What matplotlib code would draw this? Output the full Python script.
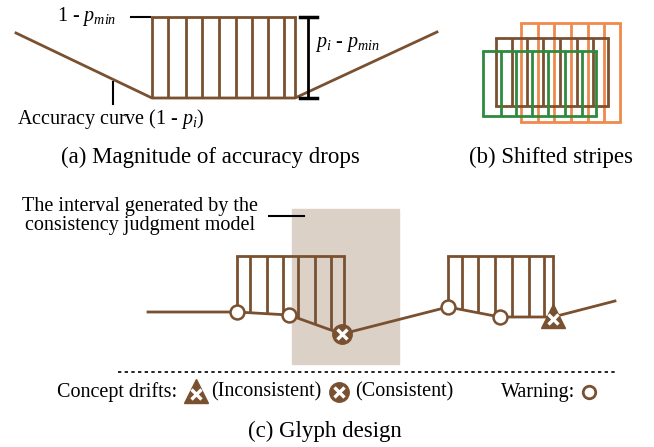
import numpy as np
import matplotlib.pyplot as plt

plt.rcParams['font.family'] = ['Liberation Serif', 'DejaVu Serif']
plt.rcParams['mathtext.fontset'] = 'custom'
plt.rcParams['mathtext.rm'] = 'Liberation Serif'
plt.rcParams['mathtext.it'] = 'Liberation Serif:italic'

BROWN = '#7a5130'
ORANGE = '#ef8a4c'
GREEN = '#2f8a3f'
SHADE = '#dcd1c7'
FS = 14.5
CAP = 16.5

# (a) accuracy curve and stripe block
a_curve_x = [16, 152, 295, 437]
a_curve_y = [33, 98, 98, 32]
a_stripes_x = [152, 168, 186, 202, 219, 236, 252, 268, 284, 295]
a_top, a_bottom = 17, 98

# (b) shifted stripe groups: (x positions, top, bottom, colour)
b_orange_x = [521, 538, 554, 571, 588, 604, 620]
b_brown_x = [496, 512, 527, 543, 560, 577, 593, 608]
b_green_x = [483, 501, 516, 532, 548, 565, 582, 596]
b_groups = [(b_orange_x, 23, 122, ORANGE),
            (b_brown_x, 38, 106, BROWN),
            (b_green_x, 51, 116, GREEN)]

# (c) glyph design
c_curve_x = [148, 237, 289, 342, 448, 500, 553, 615]
c_curve_y = [312, 312, 315, 334, 307, 317, 317, 301]
c_stripes1_x = [237, 250, 267, 283, 298, 315, 331, 344]
c_stripes2_x = [448, 462, 478, 495, 512, 529, 544, 553]
c_top = 256
warn_x = [237, 289, 448, 500]
consistent_x = [342]
inconsistent_x = [553]
interval = (292, 399, 209, 364)


def draw_stripes(ax, xs, top, bottoms, color, lw=2):
    ax.vlines(xs, top, bottoms, color=color, lw=lw)
    ax.plot([xs[0], xs[-1]], [top, top], color=color, lw=lw, solid_capstyle='projecting')


def drift_marker(ax, x, y, shape):
    if shape == '^':
        ax.plot(x, y - 1, '^', ms=17, color=BROWN, zorder=3)
        ax.plot(x, y + 2, 'x', ms=7, mew=2.4, color='white', zorder=4)
    else:
        ax.plot(x, y, 'o', ms=14, color=BROWN, zorder=3)
        ax.plot(x, y, 'x', ms=7, mew=2.4, color='white', zorder=4)


fig = plt.figure(figsize=(6.54, 4.47), dpi=100)
ax = fig.add_axes([0, 0, 1, 1])
ax.set_xlim(0, 654)
ax.set_ylim(447, 0)
ax.axis('off')

# ---- (a)
ax.plot(a_curve_x, a_curve_y, color=BROWN, lw=2)
draw_stripes(ax, a_stripes_x, a_top, a_bottom, BROWN)
ax.plot([131, 150], [a_top, a_top], color='black', lw=1.5)
ax.plot([308, 308], [a_top, a_bottom], color='black', lw=2)
ax.plot([300, 317], [a_top, a_top], color='black', lw=2.5)
ax.plot([300, 317], [a_bottom, a_bottom], color='black', lw=2.5)
ax.plot([113, 113], [82, 104], color='black', lw=1.5)
ax.text(57, 16, r'1 - $p_{min}$', fontsize=FS, va='center')
ax.text(315, 44, r'$p_i$ - $p_{min}$', fontsize=FS, va='center')
ax.text(17, 119, r'Accuracy curve (1 - $p_i$)', fontsize=FS, va='center')
ax.text(210, 157, '(a) Magnitude of accuracy drops', fontsize=CAP, ha='center', va='center')

# ---- (b)
for xs, top, bottom, col in b_groups:
    draw_stripes(ax, xs, top, bottom, col, lw=2)
    ax.plot([xs[0], xs[-1]], [bottom, bottom], color=col, lw=2)
ax.text(551, 157, '(b) Shifted stripes', fontsize=CAP, ha='center', va='center')

# ---- (c)
x0, x1, y0, y1 = interval
ax.add_patch(plt.Rectangle((x0, y0), x1 - x0, y1 - y0, color=SHADE, zorder=0))
ax.plot([269, 304], [216, 216], color='black', lw=1.5)
ax.text(140, 216, 'The interval generated by the\nconsistency judgment model',
        fontsize=FS, ha='center', va='center', multialignment='center', linespacing=1.0)

for xs in (c_stripes1_x, c_stripes2_x):
    bottoms = np.interp(xs, c_curve_x, c_curve_y)
    draw_stripes(ax, xs, c_top, bottoms, BROWN)
ax.plot(c_curve_x, c_curve_y, color=BROWN, lw=2, zorder=2)

wy = np.interp(warn_x, c_curve_x, c_curve_y)
ax.plot(warn_x, wy, 'o', ms=10, mfc='white', mec=BROWN, mew=1.8, zorder=3)
for x in consistent_x:
    drift_marker(ax, x, np.interp(x, c_curve_x, c_curve_y), 'o')
for x in inconsistent_x:
    drift_marker(ax, x, np.interp(x, c_curve_x, c_curve_y), '^')

ax.plot([118, 616], [372, 372], color='black', lw=1.2, ls=(0, (2, 2)))

ly = 392
ax.text(177, ly, 'Concept drifts:', fontsize=FS, ha='right', va='center')
drift_marker(ax, 196, ly, '^')
ax.text(211, ly, '(Inconsistent)', fontsize=FS, va='center')
drift_marker(ax, 339, ly, 'o')
ax.text(355, ly, '(Consistent)', fontsize=FS, va='center')
ax.text(501, ly, 'Warning:', fontsize=FS, va='center')
ax.plot(589, ly, 'o', ms=9, mfc='white', mec=BROWN, mew=2)
ax.text(325, 431, '(c) Glyph design', fontsize=CAP, ha='center', va='center')

fig.savefig('out.png', dpi=100)
